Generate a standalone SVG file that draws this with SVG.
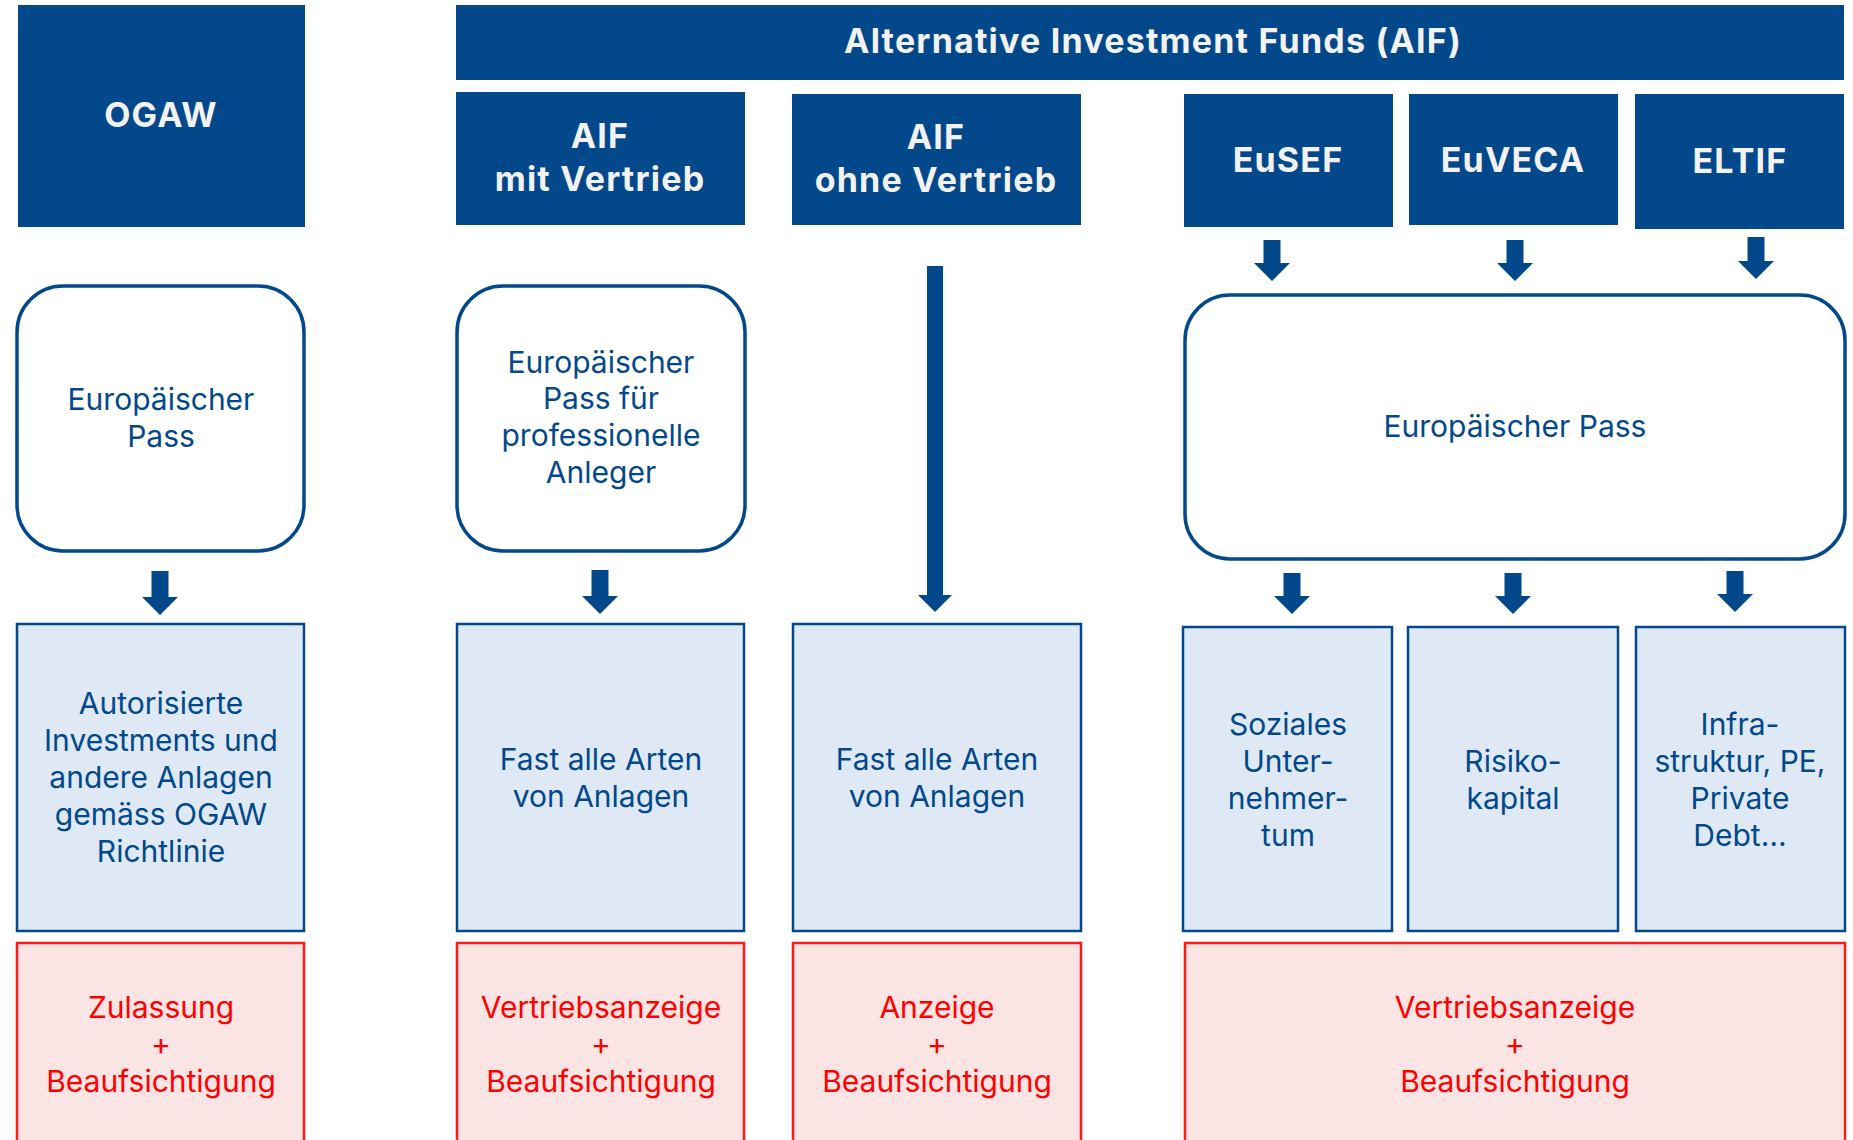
<svg xmlns="http://www.w3.org/2000/svg" width="1853" height="1140" viewBox="0 0 1853 1140">
<style>
  .hdr { fill: #03488B; }
  .hdrtxt { font-family: Inter, "DejaVu Sans", sans-serif; font-weight: 700; font-size: 34px; letter-spacing: 1.2px; fill: #F2F2F2; text-anchor: middle; }
  .pass { fill: #FFFFFF; stroke: #03488B; stroke-width: 3.5; }
  .asset { fill: #DEE9F5; stroke: #03488B; stroke-width: 2.5; }
  .reg { fill: #FAE4E4; stroke: #FF1A1A; stroke-width: 2.5; }
  .btxt { font-family: Inter, "DejaVu Sans", sans-serif; font-size: 30px; fill: #03488B; text-anchor: middle; }
  .rtxt { font-family: Inter, "DejaVu Sans", sans-serif; font-size: 30px; fill: #FF0000; text-anchor: middle; }
  .arrow { fill: #03488B; }
</style>
<rect width="1853" height="1140" fill="#FFFFFF"/>

<!-- Header row -->
<g id="ogaw">
  <rect class="hdr" x="18" y="5" width="287" height="222"/>
  <text class="hdrtxt" x="161" y="127">OGAW</text>
</g>
<g id="aif">
  <rect class="hdr" x="456" y="5" width="1388" height="75"/>
  <text class="hdrtxt" x="1153" y="53">Alternative Investment Funds (AIF)</text>
</g>
<g id="aif-mit">
  <rect class="hdr" x="456" y="92" width="289" height="133"/>
  <text class="hdrtxt" x="600" y="148">AIF</text>
  <text class="hdrtxt" x="600" y="191">mit Vertrieb</text>
</g>
<g id="aif-ohne">
  <rect class="hdr" x="792" y="94" width="289" height="131"/>
  <text class="hdrtxt" x="936" y="149">AIF</text>
  <text class="hdrtxt" x="936" y="192">ohne Vertrieb</text>
</g>
<g id="eusef">
  <rect class="hdr" x="1184" y="94" width="209" height="133"/>
  <text class="hdrtxt" x="1288" y="172">EuSEF</text>
</g>
<g id="euveca">
  <rect class="hdr" x="1409" y="94" width="209" height="131"/>
  <text class="hdrtxt" x="1513" y="172">EuVECA</text>
</g>
<g id="eltif">
  <rect class="hdr" x="1635" y="94" width="209" height="135"/>
  <text class="hdrtxt" x="1740" y="173">ELTIF</text>
</g>

<!-- Pass row -->
<g id="pass-ogaw">
  <rect class="pass" x="17" y="286" width="287" height="265" rx="46" ry="46"/>
  <text class="btxt" x="161" y="410">Europäischer</text>
  <text class="btxt" x="161" y="447">Pass</text>
</g>
<g id="pass-aif-mit">
  <rect class="pass" x="457" y="286" width="288" height="265" rx="46" ry="46"/>
  <text class="btxt" x="601" y="373">Europäischer</text>
  <text class="btxt" x="601" y="409">Pass für</text>
  <text class="btxt" x="601" y="446">professionelle</text>
  <text class="btxt" x="601" y="483">Anleger</text>
</g>
<g id="pass-eu">
  <rect class="pass" x="1185" y="295" width="660" height="264" rx="45" ry="45"/>
  <text class="btxt" x="1515" y="437">Europäischer Pass</text>
</g>

<!-- Asset row -->
<g id="asset-ogaw">
  <rect class="asset" x="17" y="624" width="287" height="307"/>
  <text class="btxt" x="161" y="714">Autorisierte</text>
  <text class="btxt" x="161" y="751">Investments und</text>
  <text class="btxt" x="161" y="788">andere Anlagen</text>
  <text class="btxt" x="161" y="825">gemäss OGAW</text>
  <text class="btxt" x="161" y="862">Richtlinie</text>
</g>
<g id="asset-aif-mit">
  <rect class="asset" x="457" y="624" width="287" height="307"/>
  <text class="btxt" x="601" y="770">Fast alle Arten</text>
  <text class="btxt" x="601" y="807">von Anlagen</text>
</g>
<g id="asset-aif-ohne">
  <rect class="asset" x="793" y="624" width="288" height="307"/>
  <text class="btxt" x="937" y="770">Fast alle Arten</text>
  <text class="btxt" x="937" y="807">von Anlagen</text>
</g>
<g id="asset-eusef">
  <rect class="asset" x="1183" y="627" width="209" height="304"/>
  <text class="btxt" x="1288" y="735">Soziales</text>
  <text class="btxt" x="1288" y="772">Unter-</text>
  <text class="btxt" x="1288" y="809">nehmer-</text>
  <text class="btxt" x="1288" y="846">tum</text>
</g>
<g id="asset-euveca">
  <rect class="asset" x="1408" y="627" width="210" height="304"/>
  <text class="btxt" x="1513" y="772">Risiko-</text>
  <text class="btxt" x="1513" y="809">kapital</text>
</g>
<g id="asset-eltif">
  <rect class="asset" x="1636" y="627" width="209" height="304"/>
  <text class="btxt" x="1740" y="735">Infra-</text>
  <text class="btxt" x="1740" y="772">struktur, PE,</text>
  <text class="btxt" x="1740" y="809">Private</text>
  <text class="btxt" x="1740" y="846">Debt…</text>
</g>

<!-- Regulation row -->
<g id="reg-ogaw">
  <rect class="reg" x="17" y="943" width="287" height="210"/>
  <text class="rtxt" x="161" y="1018">Zulassung</text>
  <text class="rtxt" x="161" y="1055">+</text>
  <text class="rtxt" x="161" y="1092">Beaufsichtigung</text>
</g>
<g id="reg-aif-mit">
  <rect class="reg" x="457" y="943" width="287" height="210"/>
  <text class="rtxt" x="601" y="1018">Vertriebsanzeige</text>
  <text class="rtxt" x="601" y="1055">+</text>
  <text class="rtxt" x="601" y="1092">Beaufsichtigung</text>
</g>
<g id="reg-aif-ohne">
  <rect class="reg" x="793" y="943" width="288" height="210"/>
  <text class="rtxt" x="937" y="1018">Anzeige</text>
  <text class="rtxt" x="937" y="1055">+</text>
  <text class="rtxt" x="937" y="1092">Beaufsichtigung</text>
</g>
<g id="reg-eu">
  <rect class="reg" x="1185" y="943" width="660" height="210"/>
  <text class="rtxt" x="1515" y="1018">Vertriebsanzeige</text>
  <text class="rtxt" x="1515" y="1055">+</text>
  <text class="rtxt" x="1515" y="1092">Beaufsichtigung</text>
</g>

<!-- Connectors -->
<g id="connectors">
  <polygon class="arrow" points="1263.5,240 1280.5,240 1280.5,263 1290,263 1272,281 1254,263 1263.5,263"/>
  <polygon class="arrow" points="1506.5,240 1523.5,240 1523.5,263 1533,263 1515,281 1497,263 1506.5,263"/>
  <polygon class="arrow" points="1747.5,237 1764.5,237 1764.5,261 1774,261 1756,279 1738,261 1747.5,261"/>
  <polygon class="arrow" points="151.5,571 168.5,571 168.5,597 178,597 160,615 142,597 151.5,597"/>
  <polygon class="arrow" points="591.5,570 608.5,570 608.5,596 618,596 600,614 582,596 591.5,596"/>
  <polygon class="arrow" points="927,266 943,266 943,595 952,595 935,612 918,595 927,595"/>
  <polygon class="arrow" points="1283.5,573 1300.5,573 1300.5,596 1310,596 1292,614 1274,596 1283.5,596"/>
  <polygon class="arrow" points="1504.5,573 1521.5,573 1521.5,596 1531,596 1513,614 1495,596 1504.5,596"/>
  <polygon class="arrow" points="1726.5,571 1743.5,571 1743.5,594 1753,594 1735,612 1717,594 1726.5,594"/>
</g>
</svg>
